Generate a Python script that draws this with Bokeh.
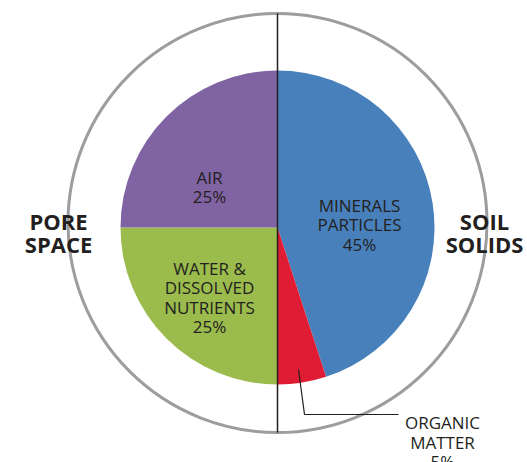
import numpy as np
from bokeh.plotting import figure
from bokeh.models import Range1d
from bokeh.core.properties import value
from bokeh.embed import file_html
from bokeh.resources import INLINE

# data
categories = ["MINERALS PARTICLES", "ORGANIC MATTER", "WATER & DISSOLVED NUTRIENTS", "AIR"]
shares = [45, 5, 25, 25]
colors = ["#4880BB", "#E01C34", "#9BBB4D", "#8063A2"]
slice_labels = [["MINERALS", "PARTICLES", "45%"], None,
                ["WATER &", "DISSOLVED", "NUTRIENTS", "25%"], ["AIR", "25%"]]
organic_label = ["ORGANIC", "MATTER", "5%"]
group_left = ["PORE", "SPACE"]
group_right = ["SOIL", "SOLIDS"]

W, H = 527, 462
p = figure(width=W, height=H, output_backend="svg", toolbar_location=None,
           x_range=Range1d(0, W), y_range=Range1d(0, H), min_border=0)
p.axis.visible = False
p.grid.visible = False
p.outline_line_color = None
p.background_fill_color = "white"

def Y(y):
    return H - y

cx, cy, r = 277, 227, 157
# outer ring
p.circle(x=[cx], y=[Y(222.5)], radius=209.5, fill_color=None, line_color="#9D9D9F", line_width=3)

# wedges, clockwise from top
tot = sum(shares)
start = np.pi / 2
for v, c in zip(shares, colors):
    end = start - 2 * np.pi * v / tot
    p.wedge(x=[cx], y=[Y(cy)], radius=r, start_angle=end, end_angle=start,
            fill_color=c, line_color=None)
    start = end

# vertical divider
p.line(x=[cx, cx], y=[Y(13), Y(432)], line_color="#231F20", line_width=1.5)

# leader for organic matter
p.line(x=[298, 304, 398], y=[Y(369), Y(414), Y(414)], line_color="#231F20", line_width=1.2)

font = value("Open Sans")

def lines(texts, x, y0, lh, size, bold=False):
    ys = [Y(y0 + i * lh) for i in range(len(texts))]
    p.text(x=[x] * len(texts), y=ys, text=texts, text_font=font,
           text_font_size=size, text_align="center", text_baseline="alphabetic",
           text_color="#231F20", text_font_style="bold" if bold else "normal")

lines(slice_labels[0], 359, 205, 19.3, "17px")
lines(slice_labels[2], 209, 268, 19.3, "17px")
lines(slice_labels[3], 209, 177, 19.3, "17px")
lines(organic_label, 442, 422, 19.5, "17px")
lines(group_left, 58, 220, 23, "22px", bold=True)
lines(group_right, 484, 220, 23, "22px", bold=True)

open("out.html", "w").write(file_html(p, INLINE))
